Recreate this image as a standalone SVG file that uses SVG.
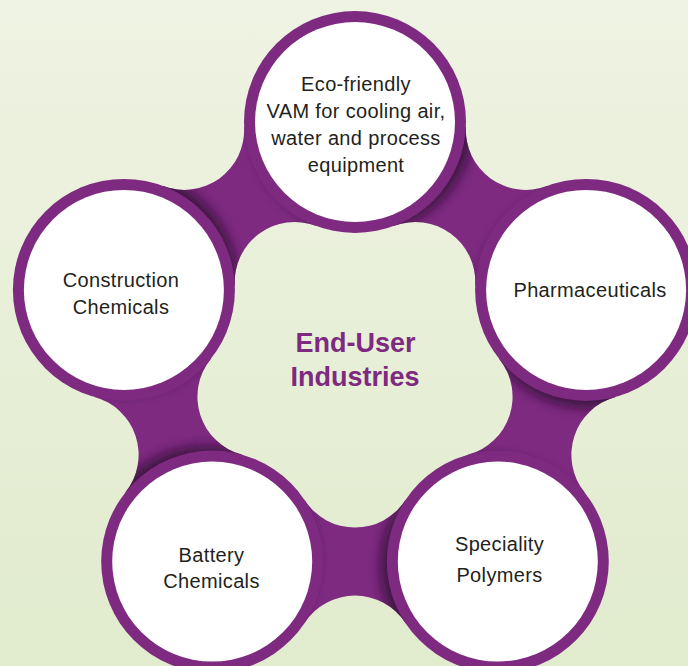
<svg xmlns="http://www.w3.org/2000/svg" width="688" height="666" viewBox="0 0 688 666">
  <defs>
    <linearGradient id="bg" x1="0" y1="0" x2="0" y2="1">
      <stop offset="0" stop-color="#eff3e3"/>
      <stop offset="1" stop-color="#e1ebcd"/>
    </linearGradient>
    <filter id="blur" x="-20%" y="-20%" width="140%" height="140%">
      <feGaussianBlur stdDeviation="6"/>
    </filter>
    <clipPath id="blobClip">
      <path clip-rule="evenodd" d="M 465.88 127.12 A 60 60 0 0 0 546.98 186.04 L 615.50 396.94 A 60 60 0 0 0 584.52 492.28 L 405.12 622.62 A 60 60 0 0 0 304.88 622.62 L 125.48 492.28 A 60 60 0 0 0 94.50 396.94 L 163.02 186.04 A 60 60 0 0 0 244.12 127.12 Z M 394.14 225.85 A 60 60 0 0 1 475.24 284.77 L 499.43 359.23 A 60 60 0 0 1 468.45 454.57 L 405.12 500.58 A 60 60 0 0 1 304.88 500.58 L 241.55 454.57 A 60 60 0 0 1 210.57 359.23 L 234.76 284.77 A 60 60 0 0 1 315.86 225.85 Z"/>
    </clipPath>
  </defs>
  <style>
    .ring { fill: #7e2a81; }
    .disc { fill: #ffffff; }
    .shadow { fill: #2a0a2d; opacity: 0.75; filter: url(#blur); }
    .lbl { font-family: "Liberation Sans", Arial, sans-serif; font-size: 20px; letter-spacing: 0.35px; fill: #231f20; text-anchor: middle; }
    .title { font-family: "Liberation Sans", Arial, sans-serif; font-size: 27px; font-weight: bold; fill: #7e2a81; text-anchor: middle; }
  </style>

  <rect x="0" y="0" width="688" height="666" fill="url(#bg)"/>

  <g id="connectors">
    <path class="ring" fill-rule="evenodd" d="M 465.88 127.12 A 60 60 0 0 0 546.98 186.04 L 615.50 396.94 A 60 60 0 0 0 584.52 492.28 L 405.12 622.62 A 60 60 0 0 0 304.88 622.62 L 125.48 492.28 A 60 60 0 0 0 94.50 396.94 L 163.02 186.04 A 60 60 0 0 0 244.12 127.12 Z M 394.14 225.85 A 60 60 0 0 1 475.24 284.77 L 499.43 359.23 A 60 60 0 0 1 468.45 454.57 L 405.12 500.58 A 60 60 0 0 1 304.88 500.58 L 241.55 454.57 A 60 60 0 0 1 210.57 359.23 L 234.76 284.77 A 60 60 0 0 1 315.86 225.85 Z"/>
    <g clip-path="url(#blobClip)">
      <circle class="shadow" cx="363" cy="122" r="111"/>
      <circle class="shadow" cx="588.6" cy="297.5" r="111"/>
      <circle class="shadow" cx="491.3" cy="566.3" r="111"/>
      <circle class="shadow" cx="205.7" cy="556.9" r="111"/>
      <circle class="shadow" cx="126.4" cy="282.3" r="111"/>
    </g>
  </g>

  <g id="center-label">
    <text class="title" x="355.5" y="352">End-User</text>
    <text class="title" x="355" y="386">Industries</text>
  </g>

  <g id="node-eco">
    <circle class="ring" cx="355" cy="122" r="111"/>
    <circle class="disc" cx="355" cy="122" r="100"/>
    <text class="lbl" x="356" y="91">Eco-friendly</text>
    <text class="lbl" x="356" y="118">VAM for cooling air,</text>
    <text class="lbl" x="356" y="145">water and process</text>
    <text class="lbl" x="356" y="172">equipment</text>
  </g>

  <g id="node-pharma">
    <circle class="ring" cx="586.1" cy="289.9" r="111"/>
    <circle class="disc" cx="586.1" cy="289.9" r="100"/>
    <text class="lbl" x="590" y="297">Pharmaceuticals</text>
  </g>

  <g id="node-speciality">
    <circle class="ring" cx="497.8" cy="561.6" r="111"/>
    <circle class="disc" cx="497.8" cy="561.6" r="100"/>
    <text class="lbl" x="499.5" y="551">Speciality</text>
    <text class="lbl" x="499.5" y="582">Polymers</text>
  </g>

  <g id="node-battery">
    <circle class="ring" cx="212.2" cy="561.6" r="111"/>
    <circle class="disc" cx="212.2" cy="561.6" r="100"/>
    <text class="lbl" x="211.5" y="562">Battery</text>
    <text class="lbl" x="211.5" y="588">Chemicals</text>
  </g>

  <g id="node-construction">
    <circle class="ring" cx="123.9" cy="289.9" r="111"/>
    <circle class="disc" cx="123.9" cy="289.9" r="100"/>
    <text class="lbl" x="121" y="287">Construction</text>
    <text class="lbl" x="121" y="314">Chemicals</text>
  </g>
</svg>
